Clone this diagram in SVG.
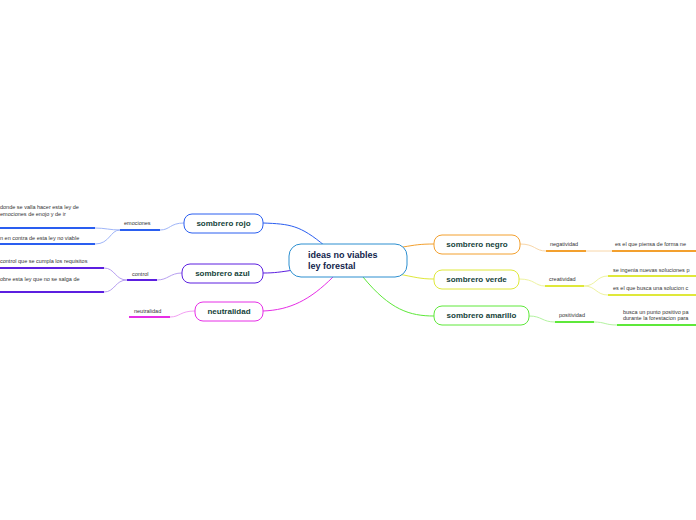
<svg xmlns="http://www.w3.org/2000/svg" width="696" height="520" viewBox="0 0 696 520">
<style>
.n{font-family:"Liberation Sans",Arial,sans-serif;font-weight:bold;font-size:8px;fill:#16433b;text-anchor:middle}
.t{font-family:"Liberation Sans",Arial,sans-serif;font-size:5.5px;fill:#333}
.b{fill:#fff;stroke-width:1}
path{fill:none}
</style>
<rect width="696" height="520" fill="#fff"/>
<g id="connectors" stroke-width="1">
<path d="M325,246 C300,225 290,224 263,223" stroke="#2a5ef0"/>
<path d="M294,270 C280,272 275,273 263,273" stroke="#5c1fe0"/>
<path d="M333,277 C310,300 290,310 263,311" stroke="#e62ee6"/>
<path d="M403,247 C415,245 420,244 434,244" stroke="#f3a02e"/>
<path d="M398,274 C415,277 420,279 434,279" stroke="#dfe83a"/>
<path d="M363,277 C390,310 410,316 434,316" stroke="#5ee83a"/>
<path d="M184,223 C170,223 170,230 160,230 M120,230 C110,230 105,228 95,228 M120,230 C110,230 110,244 95,244" stroke="#9fb5f8"/>
<path d="M120,230 H160 M0,228 H95 M0,244 H95" stroke="#2a5ef0" stroke-width="2"/>
<path d="M182,273 C170,273 168,280 157,280 M127,280 C115,280 115,268 104,268 M127,280 C115,280 115,292 104,292" stroke="#b79ff0"/>
<path d="M127,280 H157 M0,268 H104 M0,292 H104" stroke="#5c1fe0" stroke-width="2"/>
<path d="M195,311 C180,311 180,317 170,317" stroke="#f3a0f3"/>
<path d="M129,317 H170" stroke="#e62ee6" stroke-width="2"/>
<path d="M520,244 C535,244 535,251 546,251 M586,251 H612" stroke="#f8d6a8"/>
<path d="M546,251 H586 M612,251 H696" stroke="#f3a02e" stroke-width="2"/>
<path d="M519,279 C535,279 535,286 545,286 M584,286 C596,286 596,276 608,276 M584,286 C596,286 596,295 608,295" stroke="#eef3a0"/>
<path d="M545,286 H584 M608,276 H696 M608,295 H696" stroke="#dfe83a" stroke-width="2"/>
<path d="M529,316 C542,316 542,322 555,322 M594,322 C605,322 605,325 617,325" stroke="#b3f3a0"/>
<path d="M555,322 H594 M617,325 H696" stroke="#5ee83a" stroke-width="2"/>
</g>
<g id="center"><rect x="289" y="244" width="118" height="33" rx="12" class="b" stroke="#2c8fd0"/><text x="308" y="258" class="n" style="text-anchor:start;font-size:9px;fill:#12254d">ideas no viables</text><text x="308" y="269" class="n" style="text-anchor:start;font-size:9px;fill:#12254d">ley forestal</text></g>
<g id="rojo"><rect x="184" y="214" width="79" height="19" rx="8" class="b" stroke="#2a5ef0"/><text x="223.5" y="226" class="n">sombrero rojo</text></g>
<g id="azul"><rect x="182" y="264" width="81" height="19" rx="8" class="b" stroke="#5c1fe0"/><text x="222.5" y="276" class="n">sombrero  azul</text></g>
<g id="neutralidad"><rect x="195" y="302" width="68" height="19" rx="8" class="b" stroke="#e62ee6"/><text x="229" y="314" class="n">neutralidad</text></g>
<g id="negro"><rect x="434" y="235" width="86" height="19" rx="8" class="b" stroke="#f3a02e"/><text x="477" y="247" class="n">sombrero negro</text></g>
<g id="verde"><rect x="434" y="270" width="85" height="19" rx="8" class="b" stroke="#dfe83a"/><text x="476.5" y="282" class="n">sombrero verde</text></g>
<g id="amarillo"><rect x="434" y="306" width="95" height="19" rx="8" class="b" stroke="#5ee83a"/><text x="481.5" y="318" class="n">sombrero amarillo</text></g>
<g id="labels">
<text x="124" y="225" class="t">emociones</text>
<text x="0" y="209" class="t">donde se valla hacer esta ley de</text>
<text x="0" y="216" class="t">emociones de enojo y de ir</text>
<text x="0" y="240" class="t">n en contra de esta ley no viable</text>
<text x="132" y="276" class="t">control</text>
<text x="0" y="263" class="t">control que se cumpla los requisitos</text>
<text x="0" y="281" class="t">obre esta ley que no se salga de</text>
<text x="134" y="313" class="t">neutralidad</text>
<text x="550" y="246" class="t">negatividad</text>
<text x="615" y="246" class="t">es el que piensa de forma ne</text>
<text x="549" y="281" class="t">creatividad</text>
<text x="613" y="272" class="t">se ingenia nuevas soluciones p</text>
<text x="613" y="290" class="t">es el que busca una solucion c</text>
<text x="559" y="317" class="t">positividad</text>
<text x="623" y="314" class="t">busca un punto positivo pa</text>
<text x="623" y="320" class="t">durante la forestacion para</text>
</g>
</svg>
